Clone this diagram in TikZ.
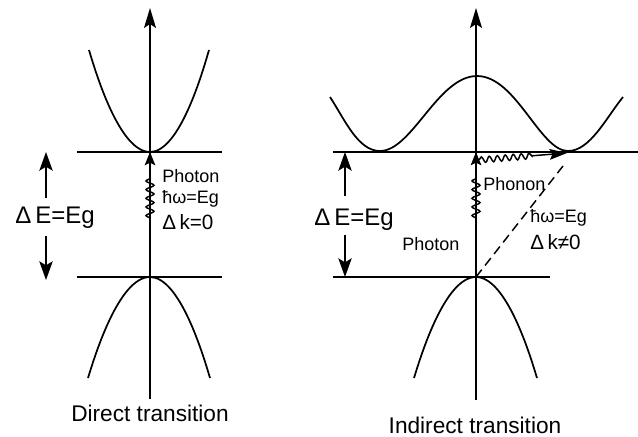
\documentclass[tikz,border=0pt]{standalone}
\usepackage{fontspec}
\setmainfont{Liberation Sans}
\usetikzlibrary{arrows.meta,decorations.pathmorphing}
\tikzset{
  band/.style={line width=1.3pt},
  level/.style={line width=1.4pt},
  axis/.style={line width=1.2pt,-{Stealth[length=15pt,width=9pt,inset=3pt]}},
  gaparrow/.style={line width=1.4pt,-{Stealth[length=14pt,width=10pt,inset=3pt]}},
  photon/.style={line width=1.1pt,-{Stealth[length=10pt,width=8pt,inset=2pt]},
    decorate,decoration={snake,amplitude=3pt,segment length=6.5pt,pre length=44pt,post length=18pt}},
  phonon/.style={line width=1.1pt,-{Stealth[length=13pt,width=8pt,inset=2pt]},
    decorate,decoration={snake,amplitude=2.2pt,segment length=6pt,post length=26pt}},
  gaplabel/.style={font=\fontsize{18}{20}\selectfont,inner sep=0pt},
  label/.style={font=\fontsize{13.5}{15}\selectfont,inner sep=0pt,anchor=west},
  title/.style={font=\fontsize{17}{19}\selectfont,inner sep=0pt}
}
\begin{document}
\begin{tikzpicture}[x=0.75pt,y=-0.75pt]
  \useasboundingbox (0,0) rectangle (638,436);
  % direct transition
  \coordinate (lbot) at (150,399);
  \coordinate (ltop) at (150,8);
  \coordinate (lc) at (150,152);
  \coordinate (lv) at (150,277);
  \draw[axis] (lbot) -- (ltop);
  \draw[level] (77,152) -- (222,152);
  \draw[level] (77,277) -- (222,277);
  \draw[band] (89,50) parabola bend (lc) (209,50);
  \draw[band] (88,378) parabola bend (lv) (210,378);
  \draw[photon] (lv) -- (lc);
  \node[gaplabel] (lgap) at (55,218) {Δ\,E=Eg};
  \coordinate (lgapup) at (46,152);
  \coordinate (lgapdn) at (46,280);
  \draw[gaparrow] (46,198) -- (lgapup);
  \draw[gaparrow] (46,236) -- (lgapdn);
  \node[label] (lph) at (162,176) {Photon};
  \node[label] (lhw) at (162,199) {ħω=Eg};
  \node[label,font=\fontsize{15.5}{17}\selectfont] (ldk) at (162,222) {Δ\,k=0};
  \node[title] (ltitle) at (150,413) {Direct transition};
  % indirect transition
  \coordinate (rbot) at (476,400);
  \coordinate (rtop) at (476,8);
  \coordinate (rc) at (476,152);
  \coordinate (rv) at (476,277);
  \coordinate (rcmin) at (567,153);
  \coordinate (rphs) at (479,160);
  \coordinate (rdash) at (563,166);
  \draw[axis] (rbot) -- (rtop);
  \draw[level] (333,152) -- (638,152);
  \draw[level] (333,277) -- (550,277);
  \draw[band] (330,97) .. controls (345,120) and (358,151) .. (380,151)
    .. controls (412,151) and (438,76) .. (477,76)
    .. controls (516,76) and (540,151) .. (568,151)
    .. controls (590,151) and (606,118) .. (623,97);
  \draw[band] (414,378) parabola bend (rv) (537,378);
  \draw[photon] (rv) -- (rc);
  \draw[phonon] (rphs) -- (rcmin);
  \draw[line width=1.1pt,dash pattern=on 7pt off 4pt] (rv) -- (rdash);
  \node[gaplabel] (rgap) at (354,220) {Δ\,E=Eg};
  \coordinate (rgapup) at (345,152);
  \coordinate (rgapdn) at (345,277);
  \draw[gaparrow] (345,196) -- (rgapup);
  \draw[gaparrow] (345,235) -- (rgapdn);
  \node[label] (rpt) at (402,244) {Photon};
  \node[label] (rpn) at (483,184) {Phonon};
  \node[label] (rhw) at (530,218) {ħω=Eg};
  \node[label,font=\fontsize{15.5}{17}\selectfont] (rdk) at (530,242) {Δ\,k≠0};
  \node[title] (rtitle) at (475,425) {Indirect transition};
\end{tikzpicture}
\end{document}
